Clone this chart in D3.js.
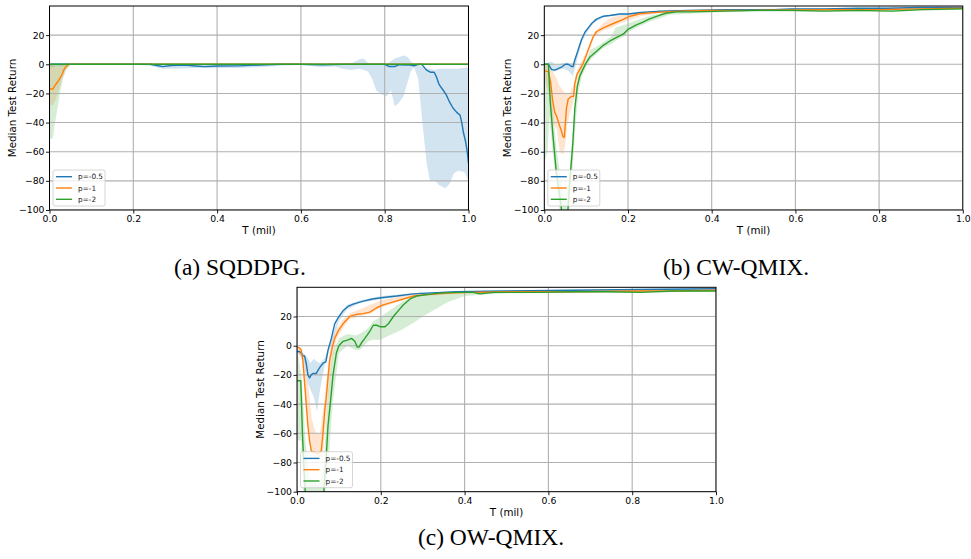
<!DOCTYPE html>
<html>
<head>
<meta charset="utf-8">
<script src="https://cdn.jsdelivr.net/npm/d3@7"></script>
<style>
  html, body { margin: 0; padding: 0; background: #fff; }
  svg { display: block; }
</style>
</head>
<body>
<svg id="fig" width="971" height="559"></svg>
<script>
// ---- shared axis settings ----
const xTicks = [0, 0.2, 0.4, 0.6, 0.8, 1.0];
const yTicks = [-100, -80, -60, -40, -20, 0, 20];
const seriesNames = ["p=-0.5", "p=-1", "p=-2"];
const seriesColors = ["#1f77b4", "#ff7f0e", "#2ca02c"];
const captions = ["(a) SQDDPG.", "(b) CW-QMIX.", "(c) OW-QMIX."];

// ---- (a) SQDDPG: median lines [T, return], bands [T, low, high] ----
const sqddpgLow5 = [[0,0],[0.2,0],[0.24,0],[0.26,-1],[0.27,-1.6],[0.29,-0.8],[0.32,-0.6],[0.35,-1.2],[0.37,-1.6],[0.4,-1.2],[0.45,-1.1],[0.5,-0.5],[0.55,0],[0.6,0],[0.65,-0.3],[0.7,0],[0.75,0],[0.8,0],[0.81,-1.5],[0.825,-1.5],[0.835,-0.3],[0.86,-0.5],[0.87,-1],[0.88,0],[0.888,0],[0.9,-4],[0.91,-5.5],[0.918,-5.5],[0.924,-9],[0.93,-14],[0.94,-18],[0.947,-21],[0.955,-26],[0.963,-30],[0.972,-33],[0.98,-35],[0.984,-40],[0.988,-47],[0.993,-53],[0.997,-60],[1.0,-68]];
const sqddpgLow5Band = [[0,-2,0],[0.05,-0.5,0],[0.2,-0.3,0],[0.24,-1,0],[0.27,-3,0],[0.3,-3,0],[0.35,-2.5,0],[0.4,-2.5,0],[0.45,-2.5,0],[0.5,-2,0],[0.55,-1,0],[0.6,-0.5,0],[0.65,-2,0],[0.68,-1.5,0],[0.7,-3,0],[0.72,-4,0.5],[0.74,-3,3.5],[0.75,-4,4],[0.76,-5,1],[0.77,-10,0],[0.78,-18,0],[0.795,-21,0.5],[0.805,-22,0],[0.815,-18,2],[0.824,-29,4],[0.835,-26,5],[0.845,-22,6],[0.855,-12,5],[0.862,-5,2],[0.87,-2,0],[0.88,-10,0],[0.89,-40,-2],[0.9,-68,-3],[0.908,-80,-3],[0.92,-80,-4],[0.93,-83,-3],[0.945,-85,-3],[0.955,-82,-3],[0.965,-75,-3],[0.975,-73,-3],[0.99,-74,-2.5],[1.0,-80,-2]];
const sqddpgP1 = [[0,-17],[0.008,-17],[0.012,-15],[0.017,-13],[0.022,-11],[0.026,-9],[0.03,-7],[0.034,-4],[0.038,-2],[0.042,-1],[0.046,0],[0.5,0],[1.0,0]];
const sqddpgP1Band = [[0,-28,0],[0.008,-28,0],[0.015,-24,-2],[0.022,-18,-1],[0.03,-10,0],[0.038,-4,0],[0.046,-1,0],[0.05,0,0]];
const sqddpgP2 = [[0,0],[0.25,0],[0.5,0],[0.75,0],[1.0,0]];
const sqddpgP2Band = [[0,-51,0],[0.008,-51,0],[0.012,-42,0],[0.018,-32,0],[0.025,-20,0],[0.032,-10,0],[0.04,-4,0],[0.048,-1,0],[0.055,0,0]];

// ---- (b) CW-QMIX ----
const cwLow5 = [[0,0],[0.01,0],[0.017,-3.5],[0.025,-4],[0.033,-3],[0.041,-2],[0.05,0],[0.057,0],[0.065,-1.5],[0.069,-1.5],[0.073,3],[0.081,10],[0.089,17],[0.097,22],[0.105,25],[0.113,28],[0.125,31],[0.141,33],[0.157,33.5],[0.18,34.5],[0.2,34.5],[0.23,35.5],[0.25,36],[0.28,36.5],[0.35,37],[0.43,37.5],[0.5,37.5],[0.55,37.5],[0.59,38],[0.67,38],[0.75,38.5],[0.82,38.5],[0.9,39],[1.0,39]];
const cwLow5Band = [[0,0,0],[0.01,-1,1],[0.017,-5,2],[0.025,-5,0],[0.035,-4,0],[0.045,-3,1],[0.055,-4,1],[0.062,-6,0.5],[0.068,-8,1],[0.073,-3,4],[0.08,5,10],[0.09,15,18],[0.1,21,23],[0.12,29,31],[0.15,33,34],[0.2,34,35],[0.3,36.5,37.5],[0.5,37,38],[0.7,37.5,38.5],[1.0,38.5,39.5]];
const cwP1 = [[0,-4.5],[0.01,-5],[0.015,-12],[0.02,-25],[0.025,-33],[0.03,-36],[0.035,-41],[0.04,-45],[0.045,-50],[0.048,-50],[0.053,-30],[0.057,-24],[0.065,-22],[0.07,-22],[0.073,-13],[0.078,-7],[0.084,-4],[0.093,0.7],[0.1,6],[0.109,13],[0.117,19],[0.125,22.5],[0.141,25],[0.165,28],[0.19,31],[0.205,33],[0.228,34.7],[0.27,35.6],[0.32,36.5],[0.39,37],[0.5,37],[0.6,37.3],[0.7,37.5],[0.8,37.5],[0.9,38],[1.0,38.5]];
const cwP1Band = [[0,-8,0],[0.01,-20,0],[0.02,-40,-5],[0.03,-45,-10],[0.037,-60,-15],[0.045,-62,-18],[0.05,-55,-20],[0.055,-42,-20],[0.06,-35,-20],[0.07,-25,-14],[0.08,-15,-3],[0.09,-2,3],[0.1,4,8],[0.12,19,22],[0.14,23,28],[0.16,25,32],[0.18,28,33.5],[0.2,30,34],[0.23,33,35],[0.27,35,36.5],[0.35,36,37.5],[0.5,36.5,37.5],[1.0,38,39]];
const cwP2 = [[0,0],[0.01,0],[0.014,-25],[0.021,-50],[0.029,-75],[0.037,-90],[0.042,-102],[0.05,-108],[0.056,-102],[0.061,-80],[0.068,-55],[0.073,-30],[0.079,-15],[0.085,-8],[0.093,-3],[0.1,1],[0.109,5],[0.125,9],[0.141,13],[0.157,16],[0.173,18.5],[0.19,21],[0.2,24],[0.22,27],[0.236,29],[0.25,31],[0.27,33],[0.29,35],[0.316,36],[0.35,36],[0.43,36.5],[0.51,37],[0.59,37],[0.67,36.5],[0.75,37],[0.83,36.5],[0.87,37],[0.9,37.5],[1.0,38]];
const cwP2Band = [[0,-67,0],[0.008,-60,0],[0.012,-35,-5],[0.02,-60,-30],[0.03,-85,-60],[0.04,-110,-80],[0.05,-115,-95],[0.06,-100,-75],[0.068,-70,-45],[0.075,-40,-22],[0.082,-18,-8],[0.09,-8,-1],[0.1,-2,3],[0.11,3,10],[0.125,7,12],[0.14,11,15],[0.16,14,19],[0.17,16,25],[0.19,19,27],[0.2,22,28],[0.22,25,30],[0.25,29,33],[0.3,34,36.5],[0.4,35.5,37],[0.5,36,37.5],[0.6,36,37.5],[0.8,36,37.5],[1.0,37.5,38.5]];

// ---- (c) OW-QMIX ----
const owLow5 = [[0,-4],[0.006,-4],[0.01,-5],[0.014,-7],[0.018,-7],[0.022,-12],[0.026,-20],[0.03,-22],[0.034,-20],[0.038,-19],[0.046,-19],[0.054,-15],[0.062,-12],[0.069,-11],[0.074,-3],[0.082,5],[0.09,15],[0.098,19],[0.11,24],[0.122,27],[0.134,28.5],[0.158,30.5],[0.18,32],[0.206,33],[0.238,34],[0.277,35.5],[0.31,36],[0.38,37],[0.5,37.5],[0.66,38],[0.82,38.5],[1.0,39]];
const owLow5Band = [[0,-5,-3],[0.015,-8,-5],[0.025,-25,-8],[0.032,-30,-12],[0.04,-35,-9],[0.048,-45,-11],[0.055,-30,-12],[0.065,-15,-9],[0.075,-5,-2],[0.085,3,7],[0.1,17,21],[0.12,25,28],[0.15,29,31],[0.2,32,34],[0.3,35.5,36.5],[0.5,37,38],[1.0,38.5,39.5]];
const owP1 = [[0,-1],[0.006,-1.5],[0.01,-3],[0.014,-10],[0.018,-25],[0.022,-40],[0.026,-55],[0.03,-65],[0.034,-72],[0.042,-73],[0.05,-74],[0.058,-72],[0.062,-60],[0.066,-45],[0.07,-35],[0.074,-22],[0.078,-10],[0.085,0],[0.09,5],[0.098,10],[0.11,15],[0.126,20],[0.142,21.5],[0.158,22],[0.174,23],[0.19,26],[0.206,28],[0.23,30],[0.254,32],[0.277,34],[0.31,35],[0.36,36],[0.42,36.5],[0.5,37],[0.66,37],[0.82,37.5],[0.9,37.5],[1.0,38]];
const owP1Band = [[0,-3,-1],[0.012,-10,-2],[0.02,-35,-15],[0.028,-60,-30],[0.035,-75,-50],[0.045,-77,-60],[0.055,-78,-60],[0.062,-74,-45],[0.07,-50,-25],[0.078,-25,-5],[0.085,-8,5],[0.095,5,12],[0.11,12,18],[0.125,18,22],[0.15,20,25],[0.175,22,28],[0.2,26,31],[0.25,31,34],[0.3,34,36],[0.4,36,37],[1.0,37.5,38.5]];
const owP2 = [[0,-24],[0.009,-24],[0.013,-60],[0.016,-80],[0.02,-102],[0.04,-108],[0.06,-104],[0.064,-100],[0.069,-80],[0.074,-55],[0.08,-38],[0.086,-20],[0.094,-5],[0.1,0],[0.11,3],[0.122,4],[0.13,5],[0.138,3],[0.144,-1],[0.148,-1],[0.154,2],[0.162,5],[0.174,10],[0.182,14],[0.19,14],[0.198,13],[0.21,13],[0.218,15],[0.23,20],[0.242,24],[0.254,28],[0.27,32],[0.285,34],[0.31,35],[0.34,36],[0.38,36.5],[0.42,36.5],[0.437,35.5],[0.47,36.5],[0.5,36.5],[0.58,36.5],[0.66,37],[0.74,37],[0.82,36.5],[0.9,37.5],[1.0,37.5]];
const owP2Band = [[0,-65,-2],[0.01,-65,-20],[0.015,-100,-40],[0.02,-110,-65],[0.03,-115,-90],[0.05,-115,-95],[0.06,-112,-90],[0.066,-105,-70],[0.075,-80,-30],[0.085,-40,-5],[0.1,-5,5],[0.12,0,8],[0.14,-3,7],[0.15,-3,8],[0.17,3,12],[0.18,4,16],[0.2,4,20],[0.22,7,24],[0.25,11,30],[0.28,16,34],[0.3,20,35],[0.33,25,35.5],[0.36,30,36],[0.4,34,37],[0.45,35,37],[0.5,36,37],[1.0,37,38]];

// ---- layout of the three subplots ----
const FONT = "'DejaVu Sans', sans-serif";
const panels = [
  { left: 49.5, top: 6,   w: 419, h: 204, capX: 240, capY: 275,
    lines: [sqddpgLow5, sqddpgP1, sqddpgP2], bands: [sqddpgLow5Band, sqddpgP1Band, sqddpgP2Band] },
  { left: 544.3, top: 6,  w: 418.5, h: 204, capX: 736, capY: 275,
    lines: [cwLow5, cwP1, cwP2], bands: [cwLow5Band, cwP1Band, cwP2Band] },
  { left: 297, top: 287.3, w: 419, h: 204.4, capX: 491, capY: 545,
    lines: [owLow5, owP1, owP2], bands: [owLow5Band, owP1Band, owP2Band] }
];

const svg = d3.select("#fig");

panels.forEach((p, i) => {
  const x = d3.scaleLinear().domain([0, 1]).range([0, p.w]);
  const y = d3.scaleLinear().domain([-100, 40]).range([p.h, 0]);
  const g = svg.append("g").attr("transform", `translate(${p.left},${p.top})`);

  const clipId = `clip-${i}`;
  g.append("clipPath").attr("id", clipId)
    .append("rect").attr("width", p.w).attr("height", p.h);

  const plot = g.append("g").attr("clip-path", `url(#${clipId})`);

  // shaded spread for each series
  const area = d3.area().x(d => x(d[0])).y0(d => y(d[1])).y1(d => y(d[2]));
  p.bands.forEach((b, k) => {
    plot.append("path").datum(b).attr("d", area)
      .attr("fill", seriesColors[k]).attr("fill-opacity", 0.2).attr("stroke", "none");
  });

  // grid sits above the shading and below the lines
  plot.append("g").selectAll("line").data(xTicks).join("line")
    .attr("x1", d => x(d)).attr("x2", d => x(d)).attr("y1", 0).attr("y2", p.h)
    .attr("stroke", "#b0b0b0").attr("stroke-width", 1.1);
  plot.append("g").selectAll("line").data(yTicks).join("line")
    .attr("x1", 0).attr("x2", p.w).attr("y1", d => y(d)).attr("y2", d => y(d))
    .attr("stroke", "#b0b0b0").attr("stroke-width", 1.1);

  const line = d3.line().x(d => x(d[0])).y(d => y(d[1]));
  p.lines.forEach((l, k) => {
    plot.append("path").datum(l).attr("d", line)
      .attr("fill", "none").attr("stroke", seriesColors[k])
      .attr("stroke-width", 1.4).attr("stroke-linejoin", "round");
  });

  // axes
  const xAxis = d3.axisBottom(x).tickValues(xTicks).tickFormat(d3.format(".1f"))
    .tickSizeInner(3.5).tickSizeOuter(0).tickPadding(2);
  const yAxis = d3.axisLeft(y).tickValues(yTicks).tickFormat(d3.format("d"))
    .tickSizeInner(3.5).tickSizeOuter(0).tickPadding(1.5);

  const gx = g.append("g").attr("transform", `translate(0,${p.h})`).call(xAxis);
  const gy = g.append("g").call(yAxis);
  [gx, gy].forEach(a => {
    a.select(".domain").remove();
    a.selectAll(".tick line").attr("stroke", "#000").attr("stroke-width", 0.9);
    a.selectAll(".tick text").attr("fill", "#000")
      .style("font-family", FONT).style("font-size", "9.3px");
  });

  // frame
  g.append("rect").attr("width", p.w).attr("height", p.h)
    .attr("fill", "none").attr("stroke", "#000").attr("stroke-width", 1);

  // axis titles
  g.append("text").attr("x", p.w / 2).attr("y", p.h + 24)
    .attr("text-anchor", "middle").style("font-family", FONT).style("font-size", "10.3px")
    .text("T (mil)");
  g.append("text")
    .attr("transform", `translate(${-37},${p.h / 2}) rotate(-90)`)
    .attr("text-anchor", "middle").attr("dy", "0.35em")
    .style("font-family", FONT).style("font-size", "10.3px")
    .text("Median Test Return");

  // legend
  const lg = g.append("g").attr("transform", `translate(3.5,${p.h - 40})`);
  lg.append("rect").attr("width", 52).attr("height", 36).attr("rx", 2)
    .attr("fill", "#fff").attr("fill-opacity", 0.8)
    .attr("stroke", "#ccc").attr("stroke-width", 0.8);
  seriesNames.forEach((name, k) => {
    const yy = 6.7 + k * 11.3;
    lg.append("line").attr("x1", 3).attr("x2", 19).attr("y1", yy).attr("y2", yy)
      .attr("stroke", seriesColors[k]).attr("stroke-width", 1.4);
    lg.append("text").attr("x", 25).attr("y", yy).attr("dy", "0.35em")
      .style("font-family", FONT).style("font-size", "7.3px").attr("fill", "#222")
      .text(name);
  });

  // subfigure caption
  svg.append("text").attr("x", p.capX).attr("y", p.capY)
    .attr("text-anchor", "middle")
    .style("font-family", "'Liberation Serif', 'Times New Roman', serif")
    .style("font-size", "23.5px").attr("fill", "#000")
    .text(captions[i]);
});
</script>
</body>
</html>
